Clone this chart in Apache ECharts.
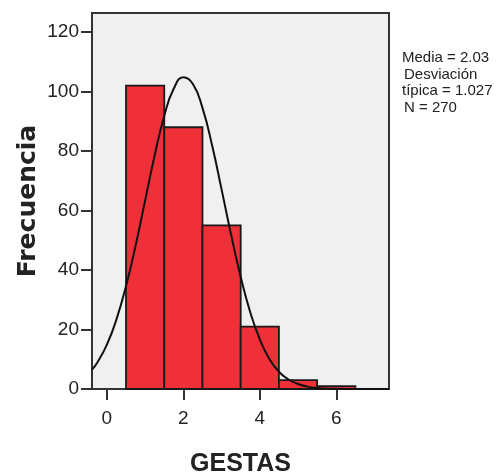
<!DOCTYPE html>
<html>
<head>
<meta charset="utf-8">
<script src="https://cdn.jsdelivr.net/npm/echarts@6/dist/echarts.min.js"></script>
<style>html,body{margin:0;padding:0;background:#fff}#c{width:499px;height:475px}</style>
</head>
<body>
<div id="c"></div>
<script>
// Histogram bins (lower edge, upper edge) and frequencies
const binLow = [0.5, 1.5, 2.5, 3.5, 4.5, 5.5];
const binHigh = [1.5, 2.5, 3.5, 4.5, 5.5, 6.5];
const freq = [102, 88, 55, 21, 3, 1];
// Normal curve points (Media 2.03, Desv. 1.027, N 270)
const curveX = [-0.39, -0.25, 0, 0.25, 0.5, 0.75, 1, 1.25, 1.5, 1.75, 2, 2.25, 2.5, 2.75, 3, 3.25, 3.5, 3.75, 4, 4.25, 4.5, 4.75, 5, 5.25, 5.5, 5.75, 6, 6.5, 7, 7.38];
const curveY = [6.5, 8.9, 14.9, 23.4, 34.6, 48.2, 63.4, 78.6, 91.8, 101.0, 104.8, 102.5, 94.5, 82.0, 67.1, 51.8, 37.7, 25.8, 16.7, 10.1, 5.8, 3.2, 1.7, 0.8, 0.35, 0.15, 0.06, 0.01, 0.0, 0.0];
const xTicks = [0, 2, 4, 6];
const yTicks = [0, 20, 40, 60, 80, 100, 120];
const statsLines = ['Media = 2.03', 'Desviación', 'típica = 1.027', 'N = 270'];
const xTitle = 'GESTAS';
const yTitle = 'Frecuencia';

const barData = freq.map((v, i) => [binLow[i], binHigh[i], v]);
const lineData = curveX.map((x, i) => [x, curveY[i]]);

const chart = echarts.init(document.getElementById('c'), null, {renderer: 'canvas'});
const font = 'Liberation Sans, Arial, sans-serif';
chart.setOption({
  animation: false,
  grid: {left: 92, right: 110, top: 13, bottom: 86, show: true, backgroundColor: '#f0f0f0', borderColor: '#333', borderWidth: 2},
  xAxis: {
    type: 'value', min: -0.39, max: 7.38,
    splitLine: {show: false},
    axisLine: {show: true, onZero: false, lineStyle: {color: '#333', width: 2}},
    axisTick: {show: true, length: 11, customValues: xTicks, lineStyle: {color: '#333', width: 2}},
    axisLabel: {customValues: xTicks, margin: 20, fontSize: 19, color: '#222', fontFamily: font}
  },
  yAxis: {
    type: 'value', min: 0, max: 126.4,
    splitLine: {show: false},
    axisLine: {show: true, onZero: false, lineStyle: {color: '#333', width: 2}},
    axisTick: {show: true, length: 11, customValues: yTicks, lineStyle: {color: '#333', width: 2}},
    axisLabel: {customValues: yTicks, margin: 13, fontSize: 19, color: '#222', fontFamily: font}
  },
  series: [
    {
      type: 'custom',
      data: barData,
      encode: {x: [0, 1], y: 2},
      renderItem: function (params, api) {
        const p0 = api.coord([api.value(0), 0]);
        const p1 = api.coord([api.value(1), api.value(2)]);
        return {
          type: 'rect',
          shape: {x: p0[0], y: p1[1], width: p1[0] - p0[0], height: p0[1] - p1[1]},
          style: {fill: '#ef3039', stroke: '#1a1a1a', lineWidth: 1.8}
        };
      },
      z: 2
    },
    {
      type: 'line', data: lineData, smooth: true, showSymbol: false,
      lineStyle: {color: '#111', width: 2}, z: 3
    }
  ],
  graphic: [
    {type: 'text', x: 240.5, y: 464, style: {text: xTitle, font: 'bold 25px ' + font, fill: '#222', align: 'center', verticalAlign: 'middle'}},
    {type: 'text', x: 28, y: 201, rotation: Math.PI / 2, style: {text: yTitle, font: 'bold 25px "DejaVu Sans", sans-serif', fill: '#222', align: 'center', verticalAlign: 'middle'}},
    {type: 'text', x: 402, y: 58, style: {text: statsLines[0], font: '15px ' + font, fill: '#222', verticalAlign: 'middle'}},
    {type: 'text', x: 404, y: 75, style: {text: statsLines[1], font: '15px ' + font, fill: '#222', verticalAlign: 'middle'}},
    {type: 'text', x: 402, y: 91, style: {text: statsLines[2], font: '15px ' + font, fill: '#222', verticalAlign: 'middle'}},
    {type: 'text', x: 404, y: 108, style: {text: statsLines[3], font: '15px ' + font, fill: '#222', verticalAlign: 'middle'}}
  ]
});
</script>
</body>
</html>
